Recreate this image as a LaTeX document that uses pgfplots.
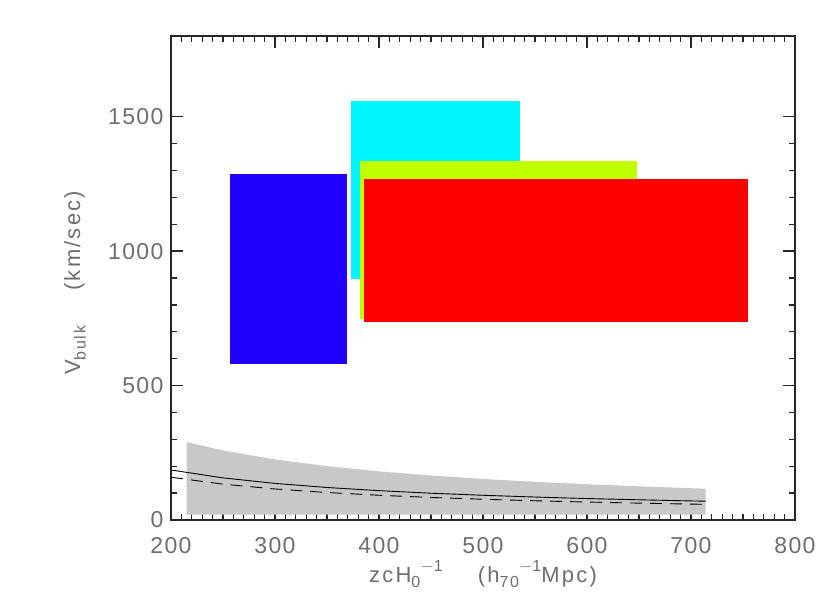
\documentclass[border=0pt]{standalone}
\usepackage{pgfplots}
\pgfplotsset{compat=1.18}
\usepackage{fontspec}
\setmainfont{Liberation Sans}
\newfontfamily\labfont[LetterSpace=10]{Liberation Sans}
\newfontfamily\tickfont[LetterSpace=6]{Liberation Sans}
\newcommand{\sups}[1]{\raisebox{0.5em}{\fontsize{16}{16}\selectfont #1}}
\newcommand{\subs}[1]{\raisebox{-0.25em}{\fontsize{16}{16}\selectfont #1}}
\definecolor{bandgray}{RGB}{200,200,200}
\definecolor{rblue}{RGB}{34,0,255}
\definecolor{rcyan}{RGB}{0,246,255}
\definecolor{rlime}{RGB}{191,255,0}
\definecolor{rred}{RGB}{255,0,0}
\definecolor{txt}{RGB}{110,110,110}
\begin{document}
\begin{tikzpicture}
\begin{axis}[
  scale only axis, width=624pt, height=484pt,
  xmin=200, xmax=800, ymin=0, ymax=1800,
  xtick={200,300,...,800}, ytick={0,500,1000,1500},
  minor x tick num=9, minor y tick num=4,
  tick align=inside, major tick length=12pt, minor tick length=6pt,
  axis line style={line width=1.6pt, black!85},
  every tick/.style={line width=1.3pt, black!85},
  tick label style={font=\tickfont\fontsize{23}{27}\selectfont, text=txt},
  /pgf/number format/assume math mode=true,
  /pgf/number format/1000 sep={},
  xticklabel style={yshift=-14pt},
  yticklabel style={xshift=-4pt},
  every axis x label/.style={at={(axis description cs:0.5,-0.112)}, anchor=center},
  every axis y label/.style={at={(axis description cs:-0.154,0.49)}, rotate=90, anchor=center},
  label style={font=\labfont\fontsize{22}{26}\selectfont, text=txt},
  xlabel={zcH\subs{0}\sups{$-$1}\hspace{1.6em}(h\subs{70}\sups{$-$1}Mpc)},
  ylabel={V\subs{bulk}\hspace{1.6em}(km/sec)},
  clip=true,
]
% grey band
\addplot[fill=bandgray, draw=none] coordinates {
 (215,290) (250,258.6) (300,225.1) (350,200.2) (400,180.9) (450,165.4)
 (500,152.7) (550,142.0) (600,132.9) (650,125.1) (700,118.2) (714,116.5)
 (714,20) (215,20)} -- cycle;
% solid line
\addplot[black, line width=0.9pt] coordinates {
 (200,186) (250,156.6) (300,136.1) (350,120.9) (400,109.1) (450,99.6)
 (500,91.9) (550,85.4) (600,79.8) (650,75.1) (700,70.9) (714,70)};
% dashed line
\addplot[black, line width=0.9pt, dash pattern=on 12pt off 8pt] coordinates {
 (200,159) (250,133.3) (300,115.4) (350,102.2) (400,92.0) (450,83.8)
 (500,77.1) (550,71.5) (600,66.7) (650,62.7) (700,59.1) (714,58.2)};
% rectangles
\addplot[fill=rblue, draw=none] coordinates {(257,581) (369,581) (369,1285) (257,1285)} -- cycle;
\addplot[fill=rcyan, draw=none] coordinates {(373,897) (536,897) (536,1560) (373,1560)} -- cycle;
\addplot[fill=rlime, draw=none] coordinates {(382,746) (648,746) (648,1336) (382,1336)} -- cycle;
\addplot[fill=rred, draw=none] coordinates {(386,736) (755,736) (755,1270) (386,1270)} -- cycle;
\end{axis}
\pgfresetboundingbox
\path[use as bounding box] (-171pt,-73pt) rectangle (659pt,520pt);
\end{tikzpicture}
\end{document}
